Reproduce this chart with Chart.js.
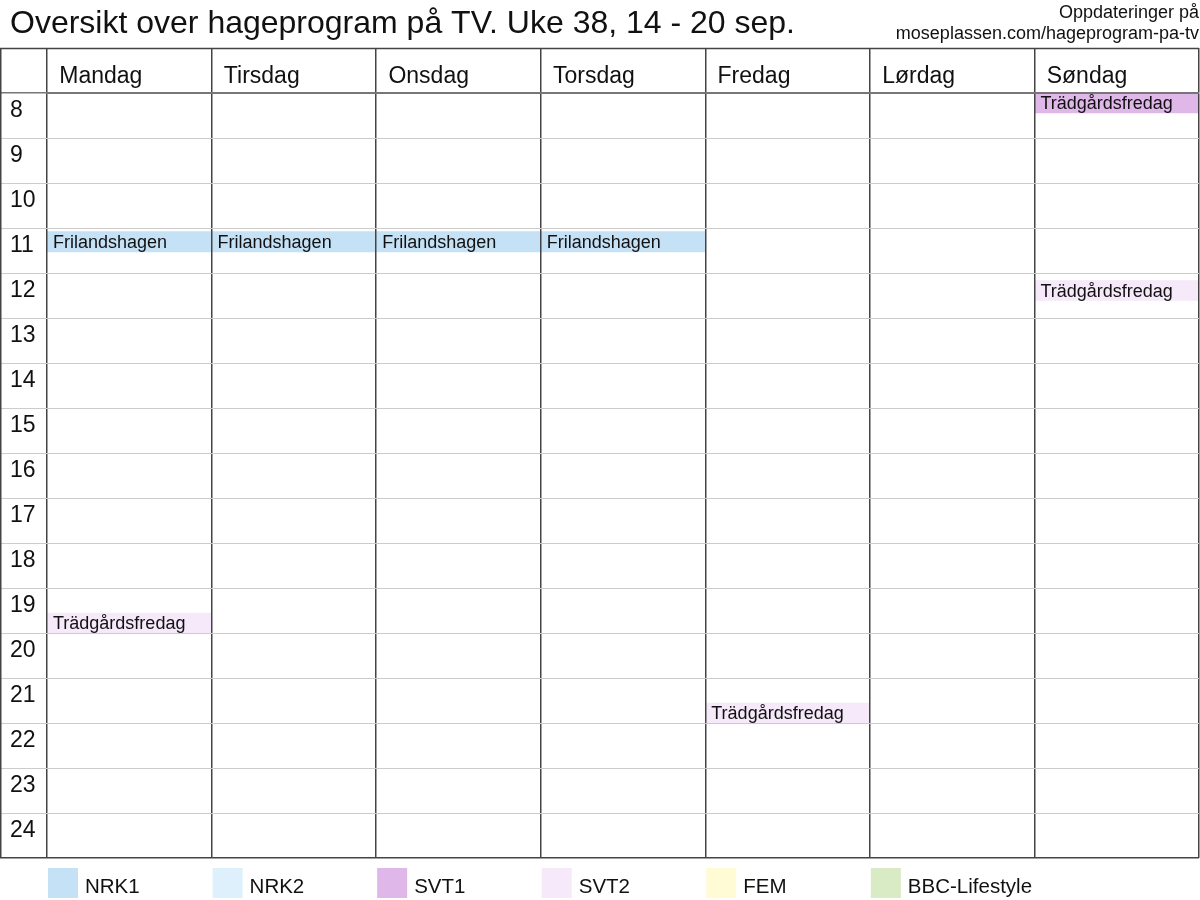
<!DOCTYPE html>
<html>
<head>
<meta charset="utf-8">
<script src="https://cdn.jsdelivr.net/npm/chart.js@4.4.1/dist/chart.umd.min.js"></script>
<style>
html,body{margin:0;padding:0;background:#fff}
#wrap{width:1200px;height:900px;position:relative}
</style>
</head>
<body>
<div id="wrap"><canvas id="c"></canvas></div>
<script>
// ---- data ----
const titleText = 'Oversikt over hageprogram på TV. Uke 38, 14 - 20 sep.';
const noteLines = ['Oppdateringer på', 'moseplassen.com/hageprogram-pa-tv'];
const days = ['Mandag', 'Tirsdag', 'Onsdag', 'Torsdag', 'Fredag', 'Lørdag', 'Søndag'];
const hourTicks = [8, 9, 10, 11, 12, 13, 14, 15, 16, 17, 18, 19, 20, 21, 22, 23, 24];
const channels = ['NRK1', 'NRK2', 'SVT1', 'SVT2', 'FEM', 'BBC-Lifestyle'];
const channelColors = ['#c5e1f5', '#ddf0fb', '#dfb7e8', '#f5e9fa', '#fffbd5', '#d9ebc5'];

const eventTitles   = ['Frilandshagen', 'Frilandshagen', 'Frilandshagen', 'Frilandshagen', 'Trädgårdsfredag', 'Trädgårdsfredag', 'Trädgårdsfredag', 'Trädgårdsfredag'];
const eventDays     = ['Mandag', 'Tirsdag', 'Onsdag', 'Torsdag', 'Søndag', 'Søndag', 'Mandag', 'Fredag'];
const eventChannels = ['NRK1', 'NRK1', 'NRK1', 'NRK1', 'SVT1', 'SVT2', 'SVT2', 'SVT2'];
const eventStart    = [11.08, 11.08, 11.08, 11.08, 8.0, 12.17, 19.56, 21.56];
const eventEnd      = [11.53, 11.53, 11.53, 11.53, 8.44, 12.61, 20.0, 22.0];

// ---- chart ----
const FONT = "'Liberation Sans', Arial, Helvetica, sans-serif";
Chart.defaults.font.family = FONT;
Chart.defaults.color = '#111';

const datasets = channels.map((ch, ci) => ({
  label: ch,
  backgroundColor: channelColors[ci],
  borderWidth: 0,
  borderSkipped: false,
  grouped: false,
  categoryPercentage: 1,
  barPercentage: 1,
  data: eventTitles
    .map((t, i) => i)
    .filter(i => eventChannels[i] === ch)
    .map(i => ({ x: eventDays[i], y: [eventStart[i], eventEnd[i]], title: eventTitles[i] }))
}));

const barLabels = {
  id: 'barLabels',
  afterDraw(chart) {
    const ctx = chart.ctx;
    ctx.save();
    ctx.font = '18px ' + FONT;
    ctx.fillStyle = '#111';
    ctx.textBaseline = 'middle';
    ctx.textAlign = 'left';
    chart.data.datasets.forEach((ds, di) => {
      const meta = chart.getDatasetMeta(di);
      meta.data.forEach((el, j) => {
        const p = el.getProps(['x', 'y', 'base', 'width'], true);
        ctx.fillText(ds.data[j].title, p.x - p.width / 2 + 6, (p.y + p.base) / 2 + 1);
      });
    });
    ctx.restore();
  }
};

const frameAndLegend = {
  id: 'frameAndLegend',
  afterDraw(chart) {
    const { ctx, chartArea } = chart;
    const xs = chart.scales.x;
    ctx.save();
    ctx.strokeStyle = '#444';
    ctx.lineWidth = 1.5;
    ctx.beginPath();
    ctx.moveTo(0, xs.top + 0.5);
    ctx.lineTo(chartArea.right, xs.top + 0.5);
    ctx.moveTo(0.75, xs.top);
    ctx.lineTo(0.75, chartArea.bottom);
    ctx.stroke();
    // legend, one entry per column
    const colW = (chartArea.right - chartArea.left) / days.length;
    ctx.font = '20.5px ' + FONT;
    ctx.textBaseline = 'middle';
    ctx.textAlign = 'left';
    channels.forEach((ch, i) => {
      const left = xs.getPixelForValue(i) - colW / 2 + 1;
      const top = chartArea.bottom + 10;
      ctx.fillStyle = channelColors[i];
      ctx.fillRect(left, top, 30, 30);
      ctx.fillStyle = '#111';
      ctx.fillText(ch, left + 37, top + 19);
    });
    ctx.restore();
  }
};

new Chart(document.getElementById('c'), {
  type: 'bar',
  data: { labels: days, datasets },
  plugins: [barLabels, frameAndLegend],
  options: {
    responsive: true,
    maintainAspectRatio: false,
    animation: false,
    layout: { padding: { left: 10, right: 1, top: 0, bottom: 42 } },
    plugins: {
      legend: { display: false },
      tooltip: { enabled: false },
      title: {
        display: true, text: titleText, align: 'start', color: '#111',
        font: { size: 32, weight: 'normal', family: FONT },
        padding: { top: 5, bottom: 4.6 }
      },
      subtitle: {
        display: true, text: noteLines, align: 'end', color: '#111',
        font: { size: 18, weight: 'normal', family: FONT },
        padding: { top: -46, bottom: 2.8 }
      }
    },
    scales: {
      x: {
        type: 'category',
        position: 'top',
        offset: true,
        grid: { offset: true, color: '#444', lineWidth: 1.5, tickLength: 45, drawTicks: true, z: 1 },
        border: { display: true, color: '#777', width: 2, z: 1 },
        ticks: {
          align: 'start', labelOffset: -70, padding: -42, autoSkip: false, maxRotation: 0,
          color: '#111', font: { size: 23, family: FONT }
        },
        afterFit(s) { s.height = 45; }
      },
      y: {
        type: 'linear',
        min: 8, max: 25, reverse: true,
        grid: {
          tickLength: 47, z: 1,
          color: c => (c.tick && c.tick.value === 25) ? '#444' : (c.tick && c.tick.value === 8 ? '#777' : '#cccccc'),
          lineWidth: c => (c.tick && (c.tick.value === 25 || c.tick.value === 8)) ? 1.5 : 1
        },
        border: { display: false },
        ticks: {
          stepSize: 1, autoSkip: false, crossAlign: 'far', labelOffset: 18, padding: 0,
          color: '#111', font: { size: 23, family: FONT },
          callback: v => hourTicks.includes(v) ? String(v) : ''
        },
        afterFit(s) { s.width = 37; }
      }
    }
  }
});
</script>
</body>
</html>
